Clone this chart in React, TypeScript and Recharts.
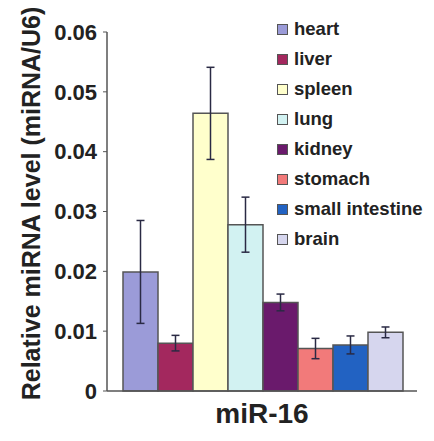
import { Bar, BarChart, ErrorBar, XAxis, YAxis } from "recharts"

const FONT = "'Liberation Sans', Arial, Helvetica, sans-serif"

const groups = ["miR-16"]
const tissues = ["heart", "liver", "spleen", "lung", "kidney", "stomach", "small intestine", "brain"]
const levels = [0.0199, 0.008, 0.0464, 0.0278, 0.0148, 0.0071, 0.0077, 0.0098]
const errors = [0.0086, 0.0013, 0.0077, 0.0046, 0.0014, 0.0017, 0.0015, 0.0009]
const fills = ["#9b9bd8", "#a3285e", "#ffffcc", "#d2f2f2", "#6a1a6c", "#f27a7a", "#2262c2", "#d6d6ee"]
const yTicks = [0, 0.01, 0.02, 0.03, 0.04, 0.05, 0.06]

// one row per group, each tissue gets its own value + error key
const data = groups.map((g) => {
  const row: Record<string, string | number> = { name: g }
  tissues.forEach((t, i) => {
    row[`v${i}`] = levels[i]
    row[`e${i}`] = errors[i]
  })
  return row
})

// legend sits over the plot area, so keep it out of the chart's layout
function TissueLegend() {
  return (
    <div
      style={{
        position: "absolute",
        left: 277,
        top: 14,
        fontFamily: FONT,
        fontWeight: 700,
        fontSize: 18.5,
        color: "#222",
      }}
    >
      {tissues.map((t, i) => (
        <div key={t} style={{ display: "flex", alignItems: "center", height: 30, whiteSpace: "nowrap" }}>
          <span
            style={{
              display: "inline-block",
              width: 9,
              height: 9,
              background: fills[i],
              border: "1px solid #555",
              marginRight: 6,
            }}
          />
          {t}
        </div>
      ))}
    </div>
  )
}

function AxisTitle(props: { viewBox?: { x: number; y: number; width: number; height: number } }) {
  const vb = props.viewBox ?? { x: 0, y: 0, width: 0, height: 0 }
  const cx = 31
  const cy = vb.y + vb.height / 2 - 8
  return (
    <text
      x={cx}
      y={cy}
      transform={`rotate(-90, ${cx}, ${cy})`}
      textAnchor="middle"
      dominantBaseline="central"
      fontFamily={FONT}
      fontWeight={700}
      fontSize={25}
      fill="#222"
    >
      Relative miRNA level (miRNA/U6)
    </text>
  )
}

export default function App() {
  return (
    <div style={{ position: "absolute", left: 0, top: 0, width: 434, height: 441, background: "#fff" }}>
      <BarChart
        width={434}
        height={441}
        data={data}
        margin={{ top: 32, right: 17, bottom: 0, left: 0 }}
        barGap={0}
        barCategoryGap={16}
      >
        <XAxis
          dataKey="name"
          height={50}
          axisLine={{ stroke: "#555", strokeWidth: 1.5 }}
          tickLine={false}
          tickMargin={6}
          tick={{ fontFamily: FONT, fontWeight: 700, fontSize: 28, fill: "#222" }}
        />
        <YAxis
          width={107}
          domain={[0, 0.06]}
          ticks={yTicks}
          interval={0}
          axisLine={{ stroke: "#555", strokeWidth: 1.5 }}
          tickLine={{ stroke: "#555" }}
          tickSize={4}
          tickMargin={6}
          tickFormatter={(v: number) => (v === 0 ? "0" : v.toFixed(2))}
          tick={{ fontFamily: FONT, fontWeight: 700, fontSize: 22, fill: "#222" }}
          label={<AxisTitle />}
        />
        {tissues.map((t, i) => (
          <Bar
            key={t}
            dataKey={`v${i}`}
            name={t}
            fill={fills[i]}
            stroke="#555"
            strokeWidth={1.5}
            isAnimationActive={false}
          >
            <ErrorBar dataKey={`e${i}`} width={4} stroke="#2a2a44" strokeWidth={1.5} direction="y" />
          </Bar>
        ))}
      </BarChart>
      <TissueLegend />
    </div>
  )
}
